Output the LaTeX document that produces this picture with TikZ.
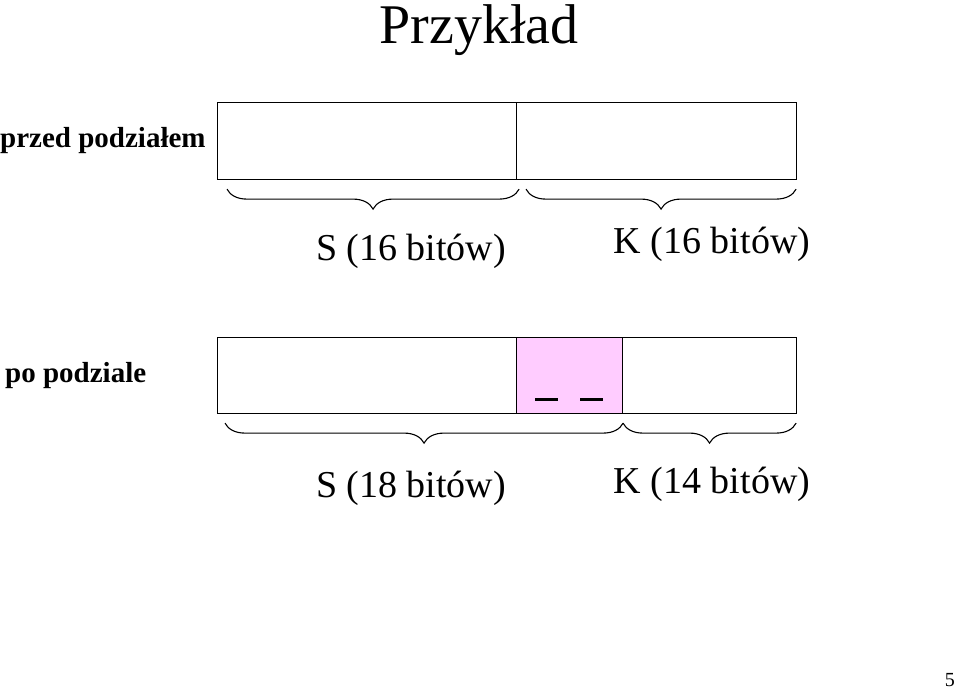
\documentclass[tikz,border=0pt]{standalone}
\usepackage{fontspec}
\setmainfont{Liberation Serif}
\usetikzlibrary{decorations.pathreplacing}

\definecolor{pinkfill}{RGB}{255,204,255}

\tikzset{
  field/.style={draw, line width=1.1pt, minimum height=77pt, inner sep=0pt, anchor=north west},
  brc/.style={decorate, decoration={brace, amplitude=20pt}, line width=1.1pt},
  label/.style={font=\fontsize{38}{40}\selectfont, anchor=base, inner sep=0pt},
  side/.style={font=\fontsize{29}{30}\selectfont\bfseries, anchor=base west, inner sep=0pt}
}

\begin{document}
\begin{tikzpicture}[x=1pt, y=-1pt]
  \useasboundingbox (0,0) rectangle (959,691);
  % title
  \node[anchor=base, inner sep=0pt, font=\fontsize{56}{60}\selectfont] (title) at (479,43) {Przykład};

  % before the split
  \node[side] (before) at (0,147) {przed podziałem};
  \node[field, minimum width=299pt] (sA) at (217,102) {};
  \node[field, minimum width=280pt] (kA) at (516,102) {};
  \draw[brc] ([shift={(2pt,-9pt)}]sA.south east) -- ([shift={(10pt,-9pt)}]sA.south west);
  \draw[brc] ([shift={(-1pt,-9pt)}]kA.south east) -- ([shift={(10pt,-9pt)}]kA.south west);
  \node[label] (sAtxt) at (411,260) {S (16 bitów)};
  \node[label] (kAtxt) at (712,253) {K (16 bitów)};

  % after the split
  \node[side] (after) at (5,382) {po podziale};
  \node[field, minimum width=299pt, minimum height=76pt] (sB) at (217,337) {};
  \node[field, minimum width=106pt, minimum height=76pt, fill=pinkfill] (extra) at (516,337) {};
  \node[field, minimum width=174pt, minimum height=76pt] (kB) at (622,337) {};
  \draw[line width=3pt] ([shift={(19pt,15pt)}]extra.south west) -- ++(23pt,0);
  \draw[line width=3pt] ([shift={(64pt,15pt)}]extra.south west) -- ++(23pt,0);
  \draw[brc] ([shift={(0pt,-9pt)}]extra.south east) -- ([shift={(8pt,-9pt)}]sB.south west);
  \draw[brc] ([shift={(-1pt,-9pt)}]kB.south east) -- ([shift={(1pt,-9pt)}]kB.south west);
  \node[label] (sBtxt) at (411,497) {S (18 bitów)};
  \node[label] (kBtxt) at (712,493) {K (14 bitów)};

  % page number
  \node[anchor=base east, inner sep=0pt, font=\fontsize{20}{22}\selectfont] (page) at (955,686) {5};
\end{tikzpicture}
\end{document}
